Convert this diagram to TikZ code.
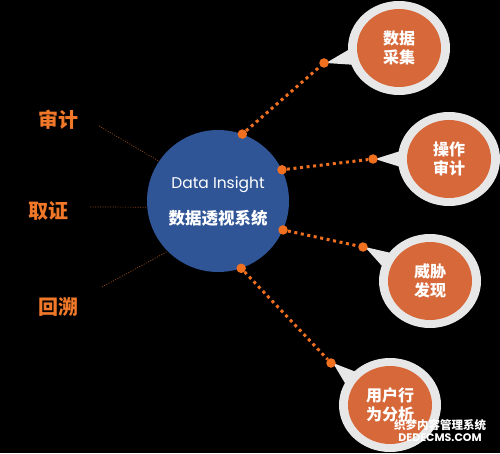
\documentclass[tikz,border=0pt]{standalone}
\usepackage{fontspec}
\setmainfont{Poppins}
\newfontfamily\cjk{Noto Sans CJK SC}
\usetikzlibrary{calc,shapes.geometric}
\definecolor{bgblack}{RGB}{0,0,0}
\definecolor{hubblue}{RGB}{47,85,151}
\definecolor{bubbleorange}{RGB}{214,104,58}
\definecolor{bubblegray}{RGB}{231,231,231}
\definecolor{dotorange}{RGB}{240,112,32}
\definecolor{labelorange}{RGB}{240,120,40}
\definecolor{thinline}{RGB}{150,75,25}
\tikzset{
  hub/.style={circle,fill=hubblue,minimum size=142pt,inner sep=0pt},
  outerbub/.style={ellipse,fill=bubblegray,minimum width=102pt,minimum height=94pt,inner sep=0pt},
  innerbub/.style={ellipse,fill=bubbleorange,minimum width=84pt,minimum height=78pt,inner sep=0pt,
    text=white,font=\cjk\bfseries\fontsize{16}{19}\selectfont,align=center},
  enddot/.style={circle,fill=dotorange,minimum size=9.5pt,inner sep=0pt},
  link/.style={draw=dotorange,line width=3pt,dash pattern=on 3pt off 3.6pt},
  thin/.style={draw=thinline,line width=0.7pt,dash pattern=on 1pt off 1.5pt},
  sidelabel/.style={text=labelorange,font=\cjk\bfseries\fontsize{20}{24}\selectfont}
}
\begin{document}
\begin{tikzpicture}[x=1pt,y=1pt]
\fill[bgblack] (0,0) rectangle (500,453);
\useasboundingbox (0,0) rectangle (500,453);
% hub
\node[hub] (c) at (218,252) {};
\node[text=white,font=\fontsize{15.5}{18}\selectfont] (t1) at (218,268) {Data Insight};
\node[text=white,font=\cjk\bfseries\fontsize{16.5}{19}\selectfont] (t2) at (218,235) {数据透视系统};
% side labels
\node[sidelabel] (l1) at (58,333) {审计};
\node[sidelabel] (l2) at (48,242) {取证};
\node[sidelabel] (l3) at (58,146) {回溯};
\coordinate (s1) at (99,327);
\coordinate (s2) at (90,246);
\coordinate (s3) at (102,166);
\draw[thin] (s1) -- (c.146);
\draw[thin] (s2) -- (c.185);
\draw[thin] (s3) -- (c.225);
% bubbles
\foreach \n/\x/\y/\tx/\ty/\a in {1/399/405/324/390/191, 2/449/294/373/294/180, 3/430/172/363/206/153, 4/390/48/331/90/144.5}{
  \node[outerbub] (o\n) at (\x,\y) {};
  \coordinate (tip\n) at (\tx+2,\ty);
  \fill[bubblegray] (tip\n) -- ($(o\n.center)+(\a+13:45pt and 42pt)$) -- ($(o\n.center)+(\a-13:45pt and 42pt)$) -- cycle;
}
\node[innerbub] (b1) at (o1) {数据\\采集};
\node[innerbub] (b2) at (o2) {操作\\审计};
\node[innerbub] (b3) at (o3) {威胁\\发现};
\node[innerbub] (b4) at (o4) {用户行\\为分析};
% end dots
\node[enddot] (d1) at (c.70) {};
\node[enddot] (d2) at (c.26) {};
\node[enddot] (d3) at (c.-24) {};
\node[enddot] (d4) at (c.-71) {};
\node[enddot] (e1) at (324,390) {};
\node[enddot] (e2) at (373,294) {};
\node[enddot] (e3) at (363,206) {};
\node[enddot] (e4) at (331,90) {};
\draw[link] (d1) -- (e1);
\draw[link] (d2) -- (e2);
\draw[link] (d3) -- (e3);
\draw[link] (d4) -- (e4);
% watermark
\node[text=white,font=\cjk\bfseries\fontsize{11.5}{13}\selectfont] (w1) at (440,28) {织梦内容管理系统};
\node[text=white,font=\bfseries\fontsize{11}{13}\selectfont] (w2) at (440,15) {DEDECMS.COM};
\end{tikzpicture}
\end{document}
